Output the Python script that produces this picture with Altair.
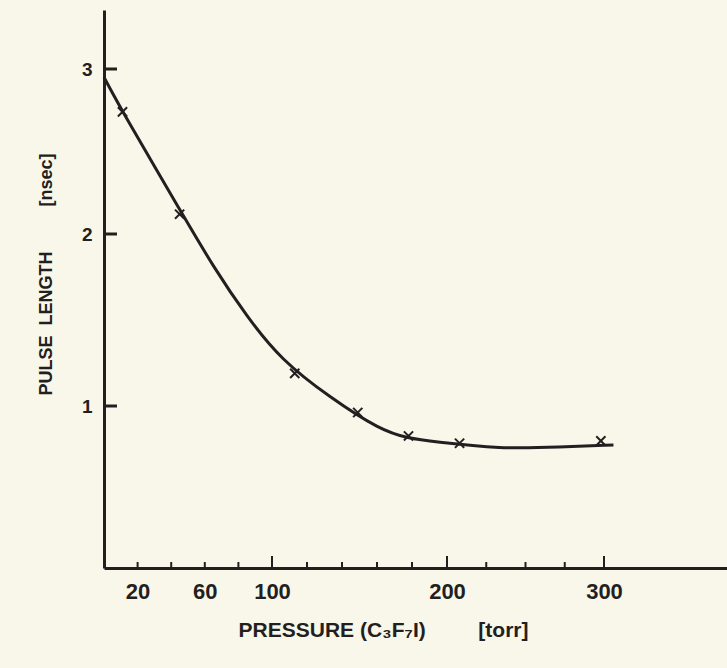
import altair as alt
import pandas as pd

# measured data points (x marks)
pressure = [11, 45, 113, 149, 178, 208, 298]
pulse = [2.74, 2.12, 1.19, 0.96, 0.815, 0.77, 0.785]

# points
curve_p = [0, 11, 47, 65, 85, 105, 133, 162, 178, 192, 234, 272, 306]
curve_l = [2.95, 2.74, 2.115, 1.81, 1.52, 1.27, 1.05, 0.85, 0.80, 0.78, 0.735, 0.747, 0.76]

x_labels = [20, 60, 100, 200, 300]
x_minor = [20, 40, 60, 80, 120, 140, 160, 180, 225, 250, 275]
x_major = [100, 200, 300]
y_ticks = [1, 2, 3]

W, H = 623, 558
INK = "#231f20"
BG = "#f8f7ea"
FONT = "Liberation Sans, Arial, sans-serif"
NB = "\u00a0"

df_pts = pd.DataFrame({"p": pressure, "l": pulse})
df_curve = pd.DataFrame({"p": curve_p, "l": curve_l})
df_minor = pd.DataFrame({"p": x_minor})
df_major = pd.DataFrame({"p": x_major})
df_y = pd.DataFrame({"l": y_ticks})

xscale = alt.Scale(domain=[0, 100, 200, 300, 378], range=[0, 168, 343, 500, W], nice=False, zero=False)
yscale = alt.Scale(domain=[0, 1, 2, 3, 3.36], range=[H, H - 162, H - 334, H - 499, 0], nice=False, zero=False)

xaxis = alt.Axis(
    values=x_labels, grid=False, ticks=False, tickSize=0, domain=True,
    domainColor=INK, domainWidth=3, labelPadding=13, labelFontSize=22,
    labelFont=FONT, labelFontWeight="bold", labelColor=INK, labelFlush=False,
    title="PRESSURE" + NB + "(C\u2083F\u2087I)" + NB * 9 + "[torr]",
    titleFont=FONT, titleFontSize=21, titleFontWeight="bold", titleColor=INK,
    titleX=279, titleY=62, titleAlign="center", titleBaseline="middle",
)
yaxis = alt.Axis(
    values=y_ticks, grid=False, ticks=False, tickSize=0, domain=True,
    domainColor=INK, domainWidth=3, labelPadding=12, labelFontSize=19,
    labelFont=FONT, labelFontWeight="bold", labelColor=INK,
    title="PULSE" + NB * 2 + "LENGTH" + NB * 9 + "[nsec]",
    titleFont=FONT, titleFontSize=18, titleFontWeight="bold", titleColor=INK,
    titleX=-58, titleY=264, titleAlign="center", titleBaseline="middle", titleAngle=270,
)

X = alt.X("p:Q", scale=xscale, axis=xaxis)
Y = alt.Y("l:Q", scale=yscale, axis=yaxis)

curve = alt.Chart(df_curve).mark_line(
    color=INK, strokeWidth=3, interpolate="basis"
).encode(x=X, y=Y)

points = alt.Chart(df_pts).mark_point(
    shape="M-1,-1L1,1M1,-1L-1,1", filled=False, size=85, strokeWidth=2,
    color=INK, opacity=1
).encode(x=X, y=Y)

minor = alt.Chart(df_minor).mark_rule(color=INK, strokeWidth=2).encode(
    x=X, y=alt.value(H), y2=alt.value(H - 6),
)
major = alt.Chart(df_major).mark_rule(color=INK, strokeWidth=2).encode(
    x=X, y=alt.value(H), y2=alt.value(H - 12),
)
yt = alt.Chart(df_y).mark_rule(color=INK, strokeWidth=3).encode(
    y=Y, x=alt.value(0), x2=alt.value(13),
)

chart = alt.layer(curve, points, minor, major, yt).properties(
    width=W, height=H,
    padding={"left": 104, "top": 10, "right": 0, "bottom": 100},
    autosize=alt.AutoSizeParams(type="none"),
    background=BG,
).configure_view(stroke=None)

chart.save("out.html", embed_options={"renderer": "svg", "actions": False})
